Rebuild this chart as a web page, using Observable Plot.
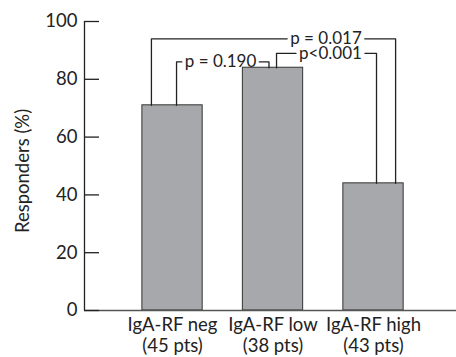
<!DOCTYPE html>
<html>
<head>
<meta charset="utf-8">
<script src="https://cdn.jsdelivr.net/npm/d3@7"></script>
<script src="https://cdn.jsdelivr.net/npm/@observablehq/plot@0.6"></script>
<style>
  html, body { margin: 0; padding: 0; background: #fff; }
  #chart svg { display: block; }
  .ytl, .ytl text { font-size: 18.5px; }
  .ylab, .ylab text { font-size: 18.5px; }
  .xtl, .xtl text { font-size: 18.5px; }
  .plab, .plab text { font-size: 17px; }
</style>
</head>
<body>
<div id="chart"></div>
<script>
const categories = ["IgA-RF neg", "IgA-RF low", "IgA-RF high"];
const patients = ["(45 pts)", "(38 pts)", "(43 pts)"];
const responders = [71, 84, 44];
const yTicks = [0, 20, 40, 60, 80, 100];

// comparisons: from index, to index, bracket level (%), label
const compFrom = [0, 0, 1];
const compTo = [1, 2, 2];
const compLevel = [86, 94, 89];
const compLabel = ["p = 0.190", "p = 0.017", "p<0.001"];

const FONT = "Lato, 'DejaVu Sans', sans-serif";
const PFONT_SIZE = 17;
const xDomain = [-0.876, 2.826];
const plotLeft = 84, plotRight = 456;
const unitsPerPx = (xDomain[1] - xDomain[0]) / (plotRight - plotLeft);

const bars = categories.map((c, i) => ({i, cat: c, pts: patients[i], v: responders[i]}));

// bracket geometry offsets (in band units) around bar centres
const leftOff = [0.04, -0.21, 0.035];
const rightOff = [-0.04, 0.22, 0.03];
const labelPos = [0.478, 1.527, 1.572];

const ctx = document.createElement("canvas").getContext("2d");
ctx.font = `${PFONT_SIZE}px ${FONT}`;
const gapPx = 3;

const segs = [];
compFrom.forEach((f, k) => {
  const t = compTo[k];
  const xl = f + leftOff[k], xr = t + rightOff[k], lv = compLevel[k];
  const half = (ctx.measureText(compLabel[k]).width / 2 + gapPx) * unitsPerPx;
  segs.push(
    {s: `${k}a`, x: xl, y: responders[f]},
    {s: `${k}a`, x: xl, y: lv},
    {s: `${k}a`, x: labelPos[k] - half, y: lv},
    {s: `${k}b`, x: labelPos[k] + half, y: lv},
    {s: `${k}b`, x: xr, y: lv},
    {s: `${k}b`, x: xr, y: responders[t]}
  );
});
const bracketLabels = compLabel.map((l, k) => ({label: l, x: labelPos[k], y: compLevel[k]}));
const tickRows = yTicks.map(t => ({t, s: String(t)}));
const yLabel = [{s: "Responders (%)"}];

const chart = Plot.plot({
  width: 456,
  height: 357,
  marginLeft: plotLeft,
  marginRight: 456 - plotRight,
  marginTop: 21,
  marginBottom: 47,
  style: {fontFamily: FONT, fontSize: "17px", color: "#222", background: "#fff"},
  x: {domain: xDomain, axis: null},
  y: {domain: [0, 100], axis: null},
  marks: [
    Plot.rectY(bars, {x1: d => d.i - 0.3, x2: d => d.i + 0.3, y: "v", fill: "#a7a8ab", stroke: "#333", strokeWidth: 1}),
    Plot.line(segs, {x: "x", y: "y", z: "s", stroke: "#222", strokeWidth: 1.3, curve: "linear"}),
    Plot.text(bracketLabels, {x: "x", y: "y", text: "label", fill: "#222", textAnchor: "middle", lineAnchor: "middle", className: "plab"}),
    Plot.ruleY([0], {stroke: "#555", strokeWidth: 1.3}),
    Plot.ruleX([xDomain[0]], {y1: 0, y2: 100, stroke: "#222", strokeWidth: 1.3}),
    Plot.ruleY(tickRows, {y: "t", stroke: "#222", strokeWidth: 1.3, insetRight: plotRight - plotLeft - 15}),
    Plot.text(tickRows, {y: "t", text: "s", frameAnchor: "left", textAnchor: "end", dx: -7, fill: "#222", className: "ytl"}),
    Plot.text(bars, {x: "i", text: d => d.cat + "\n" + d.pts, frameAnchor: "bottom", textAnchor: "middle", lineAnchor: "top", dy: 5, lineHeight: 1.15, fill: "#222", className: "xtl"}),
    Plot.text(yLabel, {text: "s", frameAnchor: "left", textAnchor: "middle", rotate: -90, dx: -61, dy: 5, fill: "#222", className: "ylab"})
  ]
});
document.getElementById("chart").appendChild(chart);
</script>
</body>
</html>
